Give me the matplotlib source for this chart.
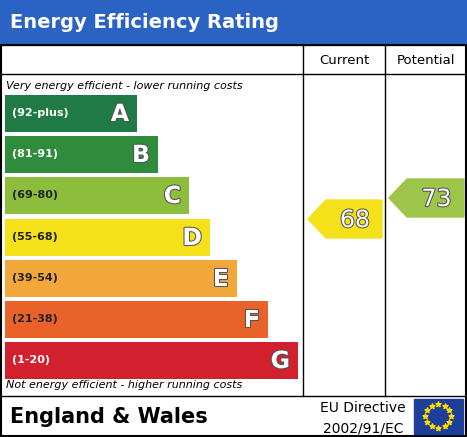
import matplotlib
matplotlib.use("Agg")
import matplotlib.pyplot as plt
import matplotlib.patheffects as pe
from matplotlib.patches import Rectangle, Polygon
import numpy as np

bands = ["A", "B", "C", "D", "E", "F", "G"]
ranges = ["(92-plus)", "(81-91)", "(69-80)", "(55-68)", "(39-54)", "(21-38)", "(1-20)"]
bar_ends = [137, 158, 189, 210, 237, 268, 298]
colors = ["#1f7a45", "#2f8c3c", "#8dbd3c", "#f5e11a", "#f2a73a", "#e8622a", "#d2202e"]
current_value = 68
potential_value = 73
current_color = "#f5e11a"
potential_color = "#9cc54a"

W, H = 467, 437
fig = plt.figure(figsize=(W/100, H/100), dpi=100)
ax = fig.add_axes([0, 0, 1, 1])
ax.set_xlim(0, W); ax.set_ylim(H, 0); ax.axis("off")
stroke = [pe.withStroke(linewidth=1.5, foreground="#555555")]

ax.add_patch(Rectangle((0, 0), W, 45, color="#2a63c4"))
ax.text(10, 22, "Energy Efficiency Rating", color="white", fontsize=14, fontweight="bold", va="center")
ax.add_patch(Rectangle((1, 45), W-2, H-46, fill=False, lw=1.5, ec="black"))
ax.plot([0, W], [74, 74], color="black", lw=1)
ax.plot([0, W], [396, 396], color="black", lw=1)
ax.plot([303, 303], [45, 396], color="black", lw=1)
ax.plot([385, 385], [45, 396], color="black", lw=1)
ax.text(344, 61, "Current", ha="center", va="center", fontsize=9.5)
ax.text(426, 61, "Potential", ha="center", va="center", fontsize=9.5)
ax.text(6, 86, "Very energy efficient - lower running costs", fontsize=8, style="italic", va="center")
ax.text(6, 385, "Not energy efficient - higher running costs", fontsize=8, style="italic", va="center")

ys = np.array([113, 154, 195, 237, 278, 319, 360])
ax.barh(ys, np.array(bar_ends) - 5, left=5, height=37, color=colors)
for y, e, b, r in zip(ys, bar_ends, bands, ranges):
    ax.text(12, y, r, fontsize=8, fontweight="bold", va="center",
            color="white" if b in "ABG" else "#222222")
    ax.text(e - 8, y + 1, b, fontsize=17, fontweight="bold", ha="right", va="center",
            color="white", path_effects=stroke)

def arrow(x0, x1, yc, val, col):
    h = 19
    ax.add_patch(Polygon([(x0, yc), (x0 + 18, yc - h), (x1, yc - h), (x1, yc + h), (x0 + 18, yc + h)],
                         closed=True, color=col))
    ax.text((x0 + x1) / 2 + 10, yc + 1, str(val), fontsize=17, ha="center", va="center", color="white",
            path_effects=stroke)

arrow(308, 382, 219, current_value, current_color)
arrow(389, 464, 198, potential_value, potential_color)

ax.text(10, 417, "England & Wales", fontsize=15, fontweight="bold", va="center")
ax.text(363, 408, "EU Directive", fontsize=10, ha="center", va="center")
ax.text(363, 428, "2002/91/EC", fontsize=10, ha="center", va="center")
ax.add_patch(Rectangle((414, 399), 49, 35, color="#1d3f9a"))
ang = np.linspace(0, 2*np.pi, 13)[:-1]
ax.scatter(438 + 13*np.cos(ang), 416 + 12*np.sin(ang), marker="*", s=14, color="#ffdd00", zorder=5)

fig.savefig("out.png", dpi=100)
